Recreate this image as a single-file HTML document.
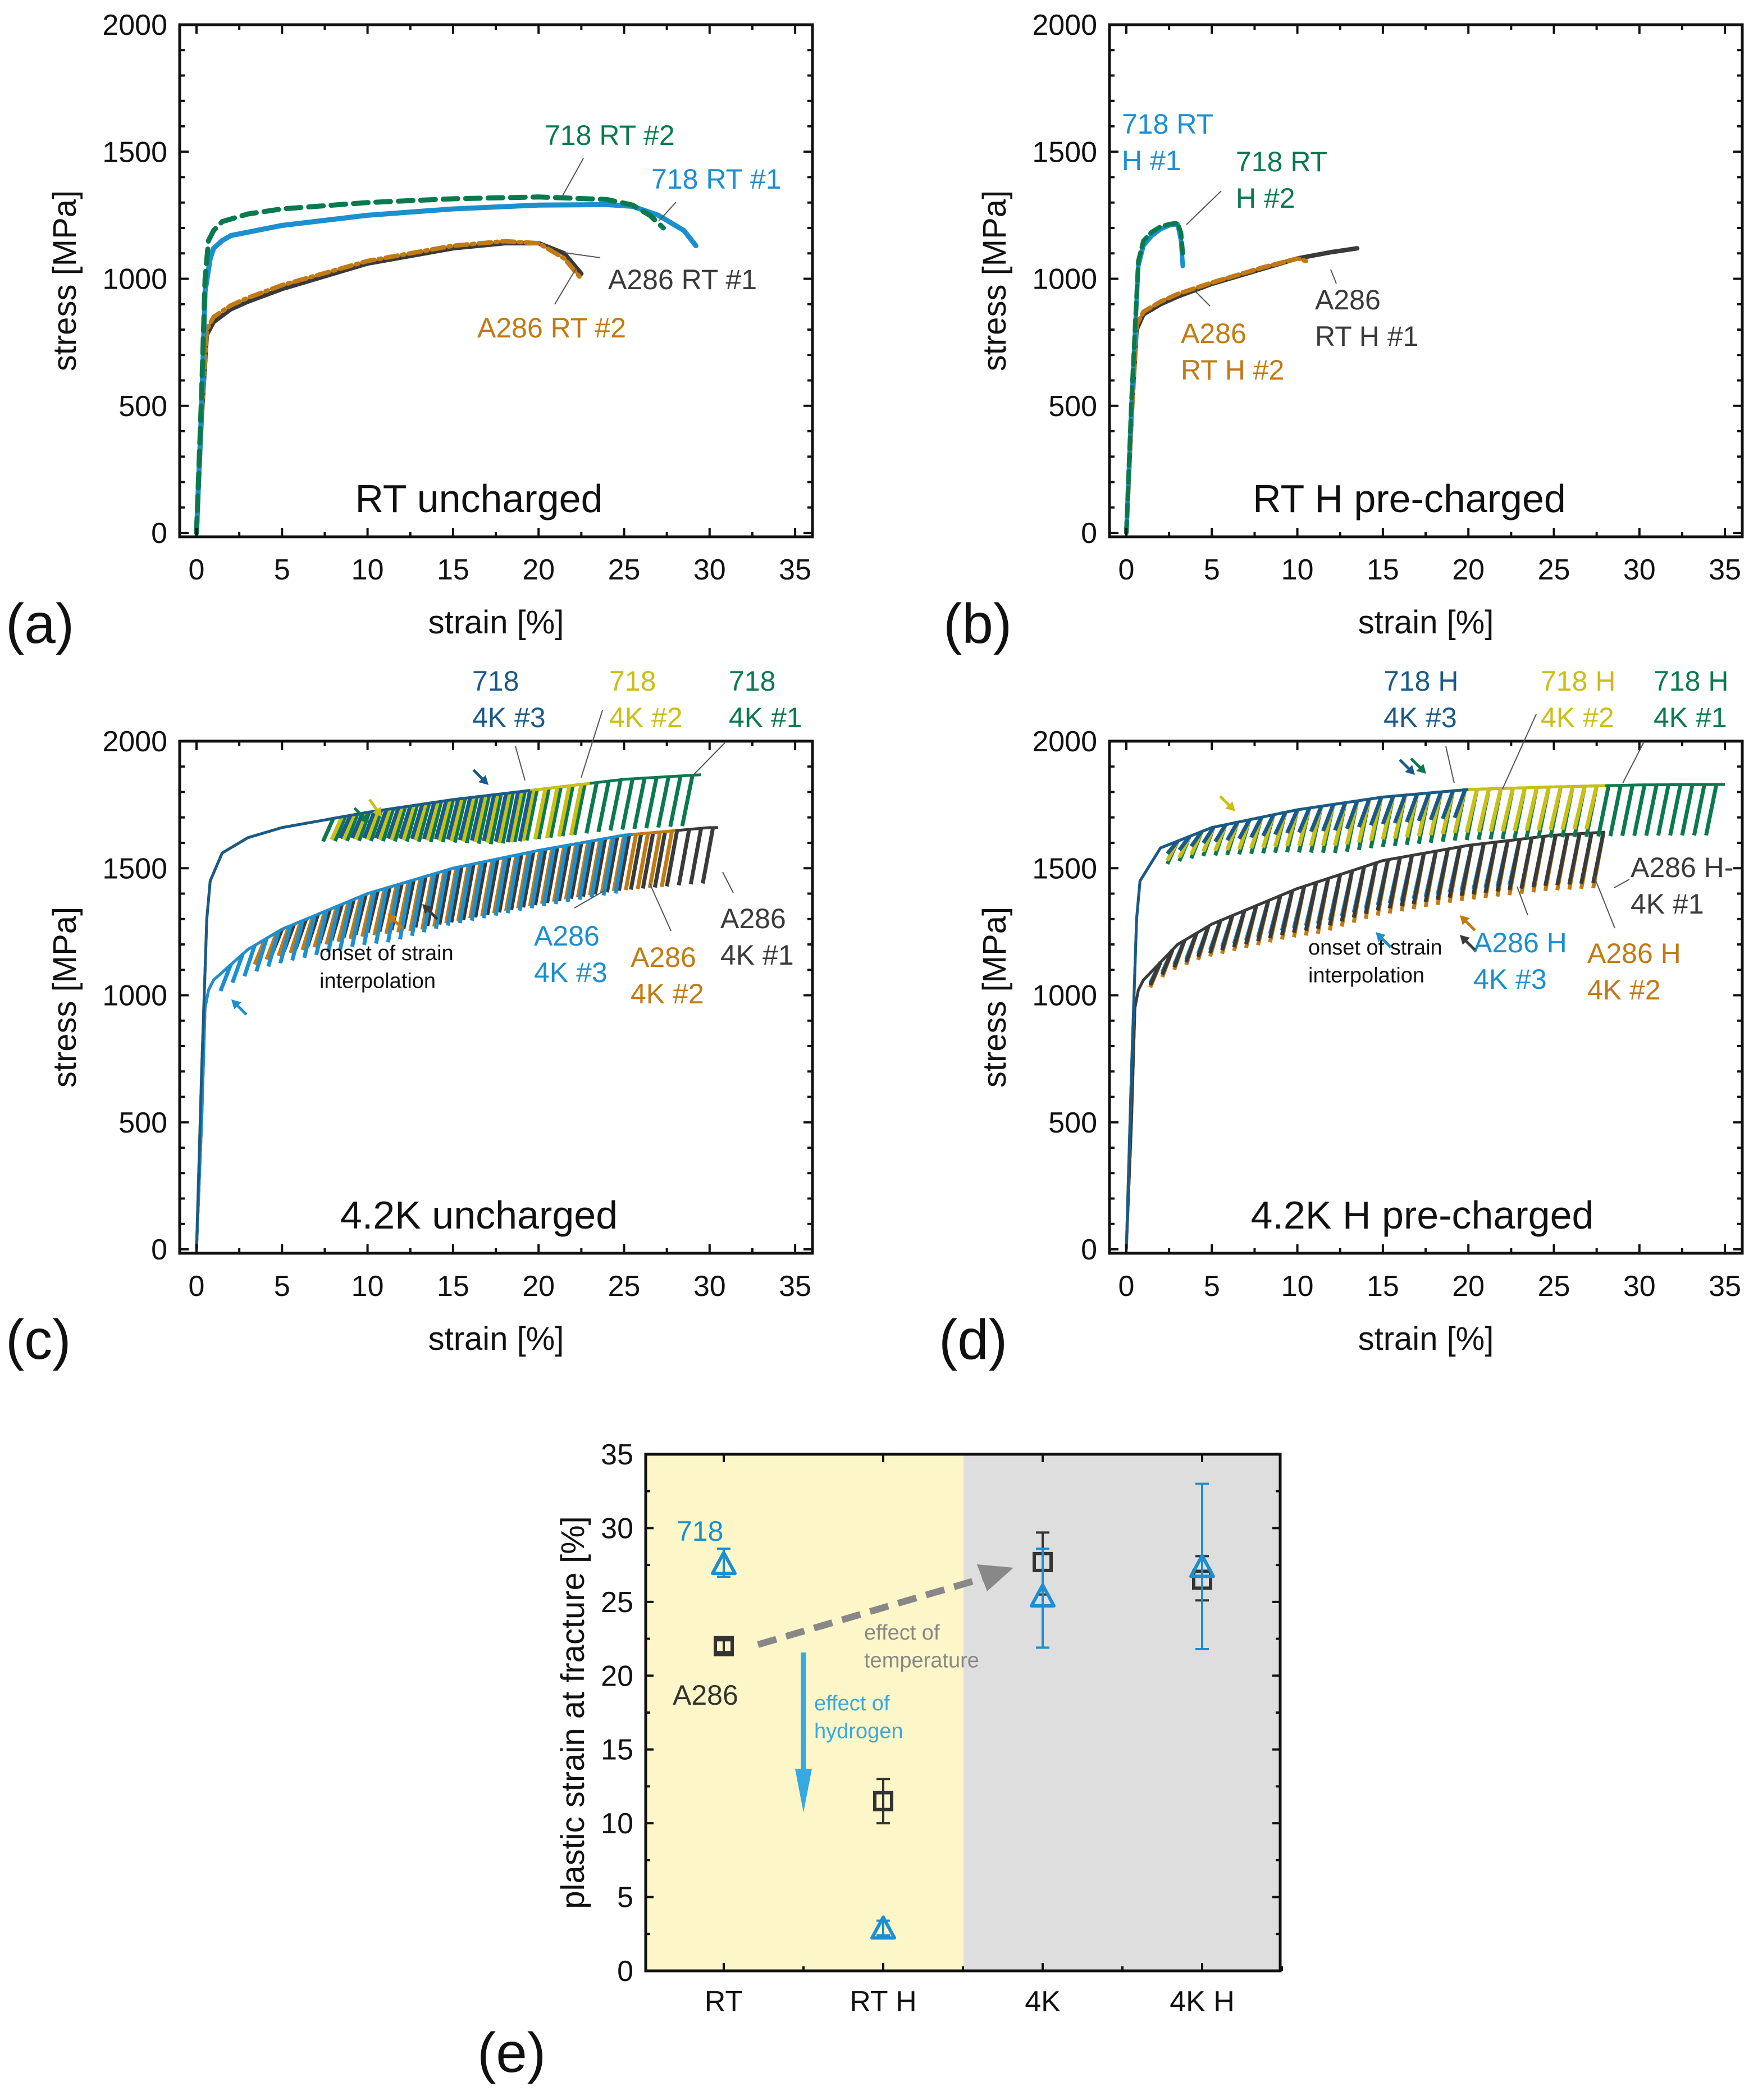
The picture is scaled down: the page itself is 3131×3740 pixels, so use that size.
<!DOCTYPE html>
<html><head><meta charset="utf-8">
<style>
html,body{margin:0;padding:0;background:#fff;}
svg{display:block;}
text{font-family:"Liberation Sans",Arial,sans-serif;}
</style></head>
<body>
<svg id="fig" width="3131" height="3740" viewBox="0 0 3131 3740" xmlns="http://www.w3.org/2000/svg">
<rect width="3131" height="3740" fill="#fff"/>
</svg>
<script>
// ---------- data ----------
const strainTicks = [0,5,10,15,20,25,30,35];
const stressTicks = [0,500,1000,1500,2000];
// panel a
const a718_1_x = [0,0.3,0.5,0.8,1,1.5,2,5,10,15,20,24,25.5,27,28.5,29.2];
const a718_1_y = [0,500,950,1080,1120,1150,1170,1210,1250,1275,1290,1292,1285,1250,1190,1130];
const a718_2_x = [0,0.3,0.5,0.7,1,1.5,3,5,10,15,20,24,25.5,26.5,27.3];
const a718_2_y = [0,550,1000,1150,1190,1225,1255,1275,1300,1315,1322,1312,1290,1250,1200];
const aA1_x = [0,0.3,0.6,1,2,3,5,10,15,18,20,21.5,22.5];
const aA1_y = [0,450,780,830,880,910,960,1060,1120,1140,1140,1100,1020];
const aA2_x = [0,0.3,0.6,1,2,3,5,10,15,18,20,21.5,22.5];
const aA2_y = [0,460,800,850,895,925,975,1070,1130,1148,1140,1080,1000];
// panel b
const b718_1_x = [0,0.3,0.7,1,1.5,2,2.5,3,3.2,3.3];
const b718_1_y = [0,500,1050,1130,1170,1195,1210,1215,1150,1050];
const b718_2_x = [0,0.3,0.7,1,1.5,2,2.5,3,3.2,3.3];
const b718_2_y = [0,520,1070,1150,1185,1205,1215,1220,1180,1100];
const bA1_x = [0,0.3,0.6,1,2,3,5,8,10,12,13.5];
const bA1_y = [0,450,800,860,900,930,980,1040,1080,1105,1120];
const bA2_x = [0,0.3,0.6,1,2,3,5,8,10,10.5];
const bA2_y = [0,450,820,870,910,940,985,1045,1080,1070];
// panel c envelopes
const c718_env_x = [0,0.3,0.6,0.8,1.5,3,5,10,15,20,25,30];
const c718_env_y = [0,700,1300,1450,1560,1620,1660,1720,1770,1810,1850,1870];
const cA_env_x = [0,0.3,0.5,0.7,1,3,5,10,15,20,25,30];
const cA_env_y = [0,500,950,1020,1060,1180,1260,1400,1500,1570,1630,1660];
const c718_end = [29.5,23,19.5];
const c718_onset = [8,8.5,9];
const c718_drop = [200,200,200];
const cA_end = [30.5,28,25.5];
const cA_onset = [5,4,2];
const cA_drop = [220,220,230];
// panel d envelopes
const d718_env_x = [0,0.3,0.6,0.8,2,5,10,15,20,25,30,36];
const d718_env_y = [0,700,1300,1450,1580,1660,1730,1780,1810,1820,1828,1830];
const dA_env_x = [0,0.3,0.5,0.7,1,3,5,10,15,20,25,30];
const dA_env_y = [0,500,950,1020,1060,1200,1280,1420,1530,1590,1630,1650];
const d718_end = [35,28,20];
const d718_onset = [3,3,3];
const d718_drop = [200,170,110];
const dA_end = [28,28,23];
const dA_onset = [2,2,2];
const dA_drop = [200,220,180];
// panel e
const eCats = ["RT","RT H","4K","4K H"];
const eA286 = [22,11.5,27.7,26.5];
const eA286_lo = [21.6,10,25.5,25.1];
const eA286_hi = [22.4,13,29.7,28.1];
const e718 = [27.5,2.8,25.3,27.3];
const e718_lo = [26.7,2.4,21.9,21.8];
const e718_hi = [28.6,3.4,28.6,33];
const eTicks = [0,5,10,15,20,25,30,35];

// ---------- helpers ----------
const NS="http://www.w3.org/2000/svg";
const svg=document.getElementById('fig');
function mk(tag,attrs,parent){const e=document.createElementNS(NS,tag);for(const k in attrs)e.setAttribute(k,attrs[k]);(parent||svg).appendChild(e);return e;}
function txt(s,x,y,size,color,anchor,parent){const t=mk('text',{x:x,y:y,'font-size':size,fill:color||'#222','text-anchor':anchor||'start'},parent);t.textContent=s;return t;}
function interp(xs,ys,v){if(v<=xs[0])return ys[0];for(let i=1;i<xs.length;i++){if(v<=xs[i]){const f=(v-xs[i-1])/(xs[i]-xs[i-1]);return ys[i-1]+f*(ys[i]-ys[i-1]);}}return ys[ys.length-1];}

const COL={blue:'#1b8fcf',green:'#0a7a4e',gray:'#3a3a3a',orange:'#c27a12',yellow:'#c9c013',navy:'#1a5a8a'};

function panel(dx,dy,name){
  const g=mk('g',{},svg);
  
  
  const X=v=>dx+350+v*30.46, Y=v=>dy+949-v*0.4525;
  const L=dx+320,R=dx+1447,T=dy+44,B=dy+956;
  return {g,X,Y,L,R,T,B};
}
function axes(p,labelLetter,lx,ly){
  const {g,X,Y,L,R,T,B}=p;
  for(let v=0;v<=35;v+=2.5){const maj=v%5===0;const len=maj?16:9;
    mk('line',{x1:X(v),x2:X(v),y1:B,y2:B-len,stroke:'#111','stroke-width':4},g);
    mk('line',{x1:X(v),x2:X(v),y1:T,y2:T+len,stroke:'#111','stroke-width':4},g);}
  for(let v=0;v<=2000;v+=100){const maj=v%500===0;const len=maj?16:9;
    mk('line',{x1:L,x2:L+len,y1:Y(v),y2:Y(v),stroke:'#111','stroke-width':4},g);
    mk('line',{x1:R,x2:R-len,y1:Y(v),y2:Y(v),stroke:'#111','stroke-width':4},g);}
  mk('rect',{x:L,y:T,width:R-L,height:B-T,fill:'none',stroke:'#111','stroke-width':5},g);
  strainTicks.forEach(v=>{const t=txt(String(v),X(v),B+76,52,'#111','middle',g);});
  stressTicks.forEach(v=>{const t=txt(String(v),L-22,Y(v)+18,52,'#111','end',g);});
  const xt=txt('strain [%]',(L+R)/2,B+172,58,'#111','middle',g);
  
  const yt=txt('stress [MPa]',0,0,58,'#111','middle',g);
  yt.setAttribute('transform',`translate(${L-185},${(T+B)/2}) rotate(-90)`);
  
  const pl=txt(labelLetter,lx,ly,100,'#111','start',g);
  
}
function curve(p,xs,ys,color,w,dash,name){
  const pts=xs.map((v,i)=>p.X(v)+','+p.Y(ys[i])).join(' ');
  const a={points:pts,fill:'none',stroke:color,'stroke-width':w,'stroke-linejoin':'round','stroke-linecap':'round'};
  if(dash)a['stroke-dasharray']=dash;
  const e=mk('polyline',a,p.g);
  
  
}
function serrated(p,ex,ey,onset,end,drop,color,w,name){
  const g=mk('g',{},p.g);
  
  
  const pts=[];
  for(let s=0;s<=end+0.001;s+=0.1)pts.push(p.X(s)+','+p.Y(interp(ex,ey,s)));
  mk('polyline',{points:pts.join(' '),fill:'none',stroke:color,'stroke-width':w,'stroke-linejoin':'round'},g);
  let d='';
  const step=0.7;
  for(let s=onset;s<=end;s+=step){
    const top=interp(ex,ey,s);
    const dd=drop*(0.45+0.55*Math.min(1,(s-onset)/10));
    d+=`M${p.X(s)},${p.Y(top)}L${p.X(s-0.6)},${p.Y(top-dd)}`;
  }
  mk('path',{d:d,fill:'none',stroke:color,'stroke-width':w+2},g);
}
function leader(g,x1,y1,x2,y2){const l=mk('line',{x1,y1,x2,y2,stroke:'#555','stroke-width':2},g);}
function arrow(g,x,y,ang,color){const e=mk('g',{transform:`translate(${x},${y}) rotate(${ang})`},g);
  mk('line',{x1:-38,y1:0,x2:-8,y2:0,stroke:color,'stroke-width':5},e);
  mk('polygon',{points:'0,0 -16,-9 -16,9',fill:color},e);
  }
function lbl(g,lines,x,y,color,size,anchor,name){lines.forEach((s,i)=>{const t=txt(s,x,y+i*(size*1.3),size,color,anchor||'start',g);});}

// ---------- panel a ----------
const pa=panel(0,0,'panel-a-rt-uncharged');
curve(pa,aA1_x,aA1_y,COL.gray,8,null,'a286-rt-1-curve');
curve(pa,aA2_x,aA2_y,COL.orange,8,'22,8,4,8','a286-rt-2-curve');
curve(pa,a718_1_x,a718_1_y,COL.blue,9,null,'718-rt-1-curve');
curve(pa,a718_2_x,a718_2_y,COL.green,9,'26,14','718-rt-2-curve');
axes(pa,'(a)',10,1145);
lbl(pa.g,['718 RT #2'],970,258,COL.green,50,'start','label-718-rt-2');
lbl(pa.g,['718 RT #1'],1160,336,COL.blue,50,'start','label-718-rt-1');
lbl(pa.g,['A286 RT #1'],1083,515,COL.gray,50,'start','label-a286-rt-1');
lbl(pa.g,['A286 RT #2'],850,601,COL.orange,50,'start','label-a286-rt-2');
leader(pa.g,1039,282,1000,352);leader(pa.g,1204,360,1173,394);leader(pa.g,1069,459,1005,450);leader(pa.g,988,542,1026,478);
lbl(pa.g,['RT uncharged'],853,912,'#111',70,'middle','condition-label');

// ---------- panel b ----------
const pb=panel(1656,0,'panel-b-rt-h-precharged');
curve(pb,bA1_x,bA1_y,COL.gray,8,null,'a286-rt-h-1-curve');
curve(pb,bA2_x,bA2_y,COL.orange,8,'20,8','a286-rt-h-2-curve');
curve(pb,b718_1_x,b718_1_y,COL.blue,8,null,'718-rt-h-1-curve');
curve(pb,b718_2_x,b718_2_y,COL.green,8,'20,10','718-rt-h-2-curve');
axes(pb,'(b)',1680,1145);
lbl(pb.g,['718 RT','H #1'],1998,238,COL.blue,50,'start','label-718-rt-h-1');
lbl(pb.g,['718 RT','H #2'],2201,305,COL.green,50,'start','label-718-rt-h-2');
lbl(pb.g,['A286','RT H #1'],2342,551,COL.gray,50,'start','label-a286-rt-h-1');
lbl(pb.g,['A286','RT H #2'],2103,611,COL.orange,50,'start','label-a286-rt-h-2');
leader(pb.g,2113,400,2175,340);leader(pb.g,2155,545,2130,520);leader(pb.g,2370,480,2380,505);
lbl(pb.g,['RT H pre-charged'],2510,912,'#111',70,'middle','condition-label');

// ---------- panel c ----------
const pc=panel(0,1276,'panel-c-4k-uncharged');
const aCols=[COL.gray,COL.orange,COL.blue],t718Cols=[COL.green,COL.yellow,COL.navy];
[0,1,2].forEach(i=>serrated(pc,cA_env_x,cA_env_y,cA_onset[i],cA_end[i],cA_drop[i],aCols[i],5,'a286-4k-'+(i+1)+'-curve'));
[0,1,2].forEach(i=>serrated(pc,c718_env_x,c718_env_y,c718_onset[i],c718_end[i],c718_drop[i],t718Cols[i],5,'718-4k-'+(i+1)+'-curve'));
axes(pc,'(c)',10,2420);
lbl(pc.g,['718','4K #3'],841,1230,COL.navy,50,'start','label-718-4k-3');
lbl(pc.g,['718','4K #2'],1085,1230,COL.yellow,50,'start','label-718-4k-2');
lbl(pc.g,['718','4K #1'],1298,1230,COL.green,50,'start','label-718-4k-1');
lbl(pc.g,['A286','4K #3'],951,1684,COL.blue,50,'start','label-a286-4k-3');
lbl(pc.g,['A286','4K #2'],1123,1722,COL.orange,50,'start','label-a286-4k-2');
lbl(pc.g,['A286','4K #1'],1283,1653,COL.gray,50,'start','label-a286-4k-1');
lbl(pc.g,['onset of strain','interpolation'],569,1710,'#111',38,'start','onset-note');
leader(pc.g,918,1329,935,1390);leader(pc.g,1073,1265,1035,1385);leader(pc.g,1291,1323,1233,1382);
leader(pc.g,1023,1617,1077,1586);leader(pc.g,1195,1658,1157,1573);leader(pc.g,1306,1590,1287,1553);
arrow(pc.g,658,1466,45,COL.green);arrow(pc.g,680,1455,55,COL.yellow);arrow(pc.g,870,1398,45,COL.navy);
arrow(pc.g,412,1780,-135,COL.blue);arrow(pc.g,690,1627,-135,COL.orange);arrow(pc.g,752,1610,-135,COL.gray);
lbl(pc.g,['4.2K uncharged'],853,2188,'#111',70,'middle','condition-label');

// ---------- panel d ----------
const pd=panel(1656,1276,'panel-d-4k-h-precharged');
[2,1,0].forEach(i=>serrated(pd,dA_env_x,dA_env_y,dA_onset[i],dA_end[i],dA_drop[i],aCols[i],5,'a286-4k-h-'+(i+1)+'-curve'));
[0,1,2].forEach(i=>serrated(pd,d718_env_x,d718_env_y,d718_onset[i],d718_end[i],d718_drop[i],t718Cols[i],5,'718-4k-h-'+(i+1)+'-curve'));
axes(pd,'(d)',1672,2420);
lbl(pd.g,['718 H','4K #3'],2464,1230,COL.navy,50,'start','label-718-h-4k-3');
lbl(pd.g,['718 H','4K #2'],2744,1230,COL.yellow,50,'start','label-718-h-4k-2');
lbl(pd.g,['718 H','4K #1'],2945,1230,COL.green,50,'start','label-718-h-4k-1');
lbl(pd.g,['A286 H','4K #3'],2624,1696,COL.blue,50,'start','label-a286-h-4k-3');
lbl(pd.g,['A286 H','4K #2'],2827,1715,COL.orange,50,'start','label-a286-h-4k-2');
lbl(pd.g,['A286 H-','4K #1'],2904,1562,COL.gray,50,'start','label-a286-h-4k-1');
lbl(pd.g,['onset of strain','interpolation'],2330,1700,'#111',38,'start','onset-note');
leader(pd.g,2575,1329,2590,1395);leader(pd.g,2736,1272,2676,1405);leader(pd.g,2928,1321,2890,1395);
leader(pd.g,2721,1630,2702,1579);leader(pd.g,2876,1653,2838,1558);leader(pd.g,2902,1566,2875,1581);
arrow(pd.g,2200,1445,45,COL.yellow);arrow(pd.g,2520,1380,45,COL.navy);arrow(pd.g,2540,1378,45,COL.green);
arrow(pd.g,2450,1660,-135,COL.blue);arrow(pd.g,2600,1630,-135,COL.orange);arrow(pd.g,2600,1665,-135,COL.gray);
lbl(pd.g,['4.2K H pre-charged'],2533,2188,'#111',70,'middle','condition-label');

// ---------- panel e ----------
const ge=mk('g',{},svg);


const EL=1150,ER=2280,ET=2590,EB=3510;
const EY=v=>EB-v*(EB-ET)/35;
const EX=i=>1289+i*284;
mk('rect',{x:EL,y:ET,width:1716-EL,height:EB-ET,fill:'#fdf6c8'},ge);
mk('rect',{x:1716,y:ET,width:ER-1716,height:EB-ET,fill:'#dedede'},ge);
for(let v=0;v<=35;v+=2.5){const maj=v%5===0,len=maj?14:8;
  mk('line',{x1:EL,x2:EL+len,y1:EY(v),y2:EY(v),stroke:'#111','stroke-width':4},ge);
  mk('line',{x1:ER,x2:ER-len,y1:EY(v),y2:EY(v),stroke:'#111','stroke-width':4},ge);}
for(let i=0;i<4;i++){mk('line',{x1:EX(i),x2:EX(i),y1:EB,y2:EB-14,stroke:'#111','stroke-width':4},ge);mk('line',{x1:EX(i),x2:EX(i),y1:ET,y2:ET+14,stroke:'#111','stroke-width':4},ge);
  mk('line',{x1:EX(i)+142,x2:EX(i)+142,y1:EB,y2:EB-8,stroke:'#111','stroke-width':4},ge);}
mk('rect',{x:EL,y:ET,width:ER-EL,height:EB-ET,fill:'none',stroke:'#111','stroke-width':5},ge);
eTicks.forEach(v=>{const t=txt(String(v),EL-22,EY(v)+18,52,'#111','end',ge);});
eCats.forEach((c,i)=>{const t=txt(c,EX(i),3582,52,'#111','middle',ge);});
const eyt=txt('plastic strain at fracture [%]',0,0,58,'#111','middle',ge);
eyt.setAttribute('transform',`translate(1040,${(ET+EB)/2}) rotate(-90)`);

const pe=txt('(e)',850,3690,100,'#111','start',ge);
const ta=mk('g',{},ge);
mk('line',{x1:1350,y1:2929,x2:1760,y2:2808,stroke:'#888','stroke-width':12,'stroke-dasharray':'34,18'},ta);
mk('polygon',{points:'1805,2792 1740,2786 1758,2834',fill:'#888'},ta);
lbl(ge,['effect of','temperature'],1539,2920,'#888',38,'start','temperature-label');
const ha=mk('g',{},ge);
mk('line',{x1:1431,y1:2943,x2:1431,y2:3170,stroke:'#36a9e1','stroke-width':9},ha);
mk('polygon',{points:'1416,3150 1446,3150 1431,3228',fill:'#36a9e1'},ha);
lbl(ge,['effect of','hydrogen'],1450,3046,'#36a9e1',38,'start','hydrogen-label');
lbl(ge,['718'],1205,2744,'#1b8fcf',50,'start','series-label-718');
lbl(ge,['A286'],1198,3036,'#333',50,'start','series-label-a286');
eCats.forEach((c,i)=>{
  const x=EX(i);
  const gA=mk('g',{},ge);
  mk('line',{x1:x,x2:x,y1:EY(eA286_lo[i]),y2:EY(eA286_hi[i]),stroke:'#333','stroke-width':4},gA);
  [eA286_lo[i],eA286_hi[i]].forEach(v=>mk('line',{x1:x-12,x2:x+12,y1:EY(v),y2:EY(v),stroke:'#333','stroke-width':4},gA));
  mk('rect',{x:x-15,y:EY(eA286[i])-15,width:30,height:30,fill:'none',stroke:'#333','stroke-width':6},gA);
  const g7=mk('g',{},ge);
  mk('line',{x1:x,x2:x,y1:EY(e718_lo[i]),y2:EY(e718_hi[i]),stroke:'#1b8fcf','stroke-width':4},g7);
  [e718_lo[i],e718_hi[i]].forEach(v=>mk('line',{x1:x-12,x2:x+12,y1:EY(v),y2:EY(v),stroke:'#1b8fcf','stroke-width':4},g7));
  const y=EY(e718[i]);
  mk('polygon',{points:`${x},${y-22} ${x-20},${y+15} ${x+20},${y+15}`,fill:'none',stroke:'#1b8fcf','stroke-width':6,'stroke-linejoin':'round'},g7);
});
</script>
</body></html>
